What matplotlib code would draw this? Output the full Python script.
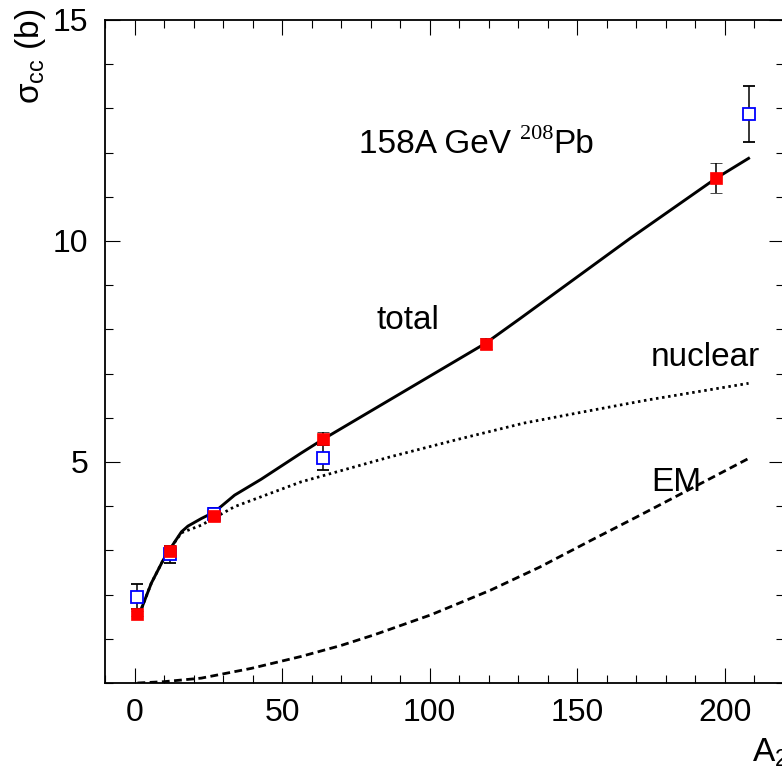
import numpy as np
import matplotlib
matplotlib.use("Agg")
import matplotlib.pyplot as plt
from matplotlib.ticker import MultipleLocator
from matplotlib.transforms import offset_copy

plt.rcParams['font.family'] = ['Liberation Sans', 'DejaVu Sans']
plt.rcParams['mathtext.fontset'] = 'custom'
plt.rcParams['mathtext.rm'] = 'Liberation Sans'
plt.rcParams['mathtext.it'] = 'Liberation Sans:italic'

# measured points: red filled squares
A_red = [1, 12, 27, 64, 119, 197]
sig_red = [1.57, 2.99, 3.77, 5.53, 7.68, 11.42]
err_red = [0.05, 0.1, 0.1, 0.15, 0.12, 0.34]

# measured points: blue open squares
A_blue = [1, 12, 27, 64, 208]
sig_blue = [1.95, 2.91, 3.82, 5.10, 12.87]
err_blue = [0.28, 0.2, 0.15, 0.28, 0.64]

# model curves
A_tot = [1, 2.4, 5.7, 9.7, 12.5, 15.9, 18.1, 22.6, 27.1, 33.9, 42.9, 56.4, 64,
         119, 130.7, 167.9, 197, 208]
sig_tot = [1.6, 1.69, 2.26, 2.78, 3.08, 3.42, 3.55, 3.72, 3.87, 4.25, 4.61, 5.20,
           5.52, 7.69, 8.25, 10.06, 11.42, 11.87]

A_nuc = [1, 2.4, 5.7, 9.7, 12.5, 15.9, 22.6, 33.9, 56.4, 86.8, 110, 131.9, 153.3,
         173.5, 208]
sig_nuc = [1.6, 1.69, 2.26, 2.78, 3.08, 3.40, 3.57, 3.99, 4.55, 5.12, 5.52, 5.88,
           6.15, 6.40, 6.78]

A_em = [1, 10, 22.6, 39.5, 56.4, 70, 81.2, 100.3, 120.6, 137.2, 155, 170.2, 190, 208]
sig_em = [0, 0.03, 0.11, 0.33, 0.6, 0.85, 1.09, 1.54, 2.10, 2.62, 3.24, 3.76,
          4.45, 5.08]

fig = plt.figure(figsize=(7.82, 7.78), dpi=100)
ax = fig.add_axes([105/782, 1 - 683/778, 679/782, 663/778])

ax.plot(A_tot, sig_tot, color='black', lw=2.1, zorder=2)
ax.plot(A_nuc, sig_nuc, color='black', lw=2.0, dashes=(0.9, 1.3), zorder=2)
ax.plot(A_em, sig_em, color='black', lw=2.0, dashes=(2.8, 1.6), zorder=2)

ax.errorbar(A_blue, sig_blue, yerr=err_blue, fmt='s', ms=8.3, mfc='white',
            mec='blue', mew=1.3, ecolor='black', elinewidth=1.1, capsize=4,
            capthick=1.1, zorder=3)
ax.errorbar(A_red, sig_red, yerr=err_red, fmt='s', ms=8.3, mfc='red',
            mec='red', mew=0.5, ecolor='black', elinewidth=1.1, capsize=4,
            capthick=1.1, zorder=4)

ax.set_xlim(-10, 220)
ax.set_ylim(0, 15)
ax.set_xticks([0, 50, 100, 150, 200])
ax.set_yticks([5, 10, 15])
ax.xaxis.set_minor_locator(MultipleLocator(10))
ax.yaxis.set_minor_locator(MultipleLocator(1))
ax.tick_params(which='both', direction='in', top=True, right=True, width=0.8,
               labelsize=23)
ax.tick_params(which='major', length=11)
ax.tick_params(which='minor', length=5.5)
ax.tick_params(axis='x', pad=11)
ax.tick_params(axis='y', pad=12)
for s in ax.spines.values():
    s.set_linewidth(1.3)

# title with serif superscript, built from three pieces
t1 = ax.text(76, 12.0, "158A GeV ", fontsize=24)
fig.canvas.draw()
w1 = t1.get_window_extent().width * 72 / fig.dpi
t2 = ax.text(76, 12.0, "208", fontsize=16, family='Liberation Serif',
             transform=offset_copy(ax.transData, fig=fig, x=w1, y=10, units='points'))
fig.canvas.draw()
w2 = t2.get_window_extent().width * 72 / fig.dpi
ax.text(76, 12.0, "Pb", fontsize=24,
        transform=offset_copy(ax.transData, fig=fig, x=w1 + w2, y=0, units='points'))

ax.text(82, 8.0, "total", fontsize=24)
ax.text(175, 7.17, "nuclear", fontsize=24)
ax.text(175, 4.34, "EM", fontsize=24)

fig.text(30/782, 1 - 9/778, r"σ$_{\mathrm{cc}}$ (b)", rotation=90, fontsize=24,
         ha='center', va='top')
fig.text(752/782, 1 - 762/778, r"A$_2$", fontsize=24, ha='left', va='baseline')

fig.savefig("out.png", dpi=100)
